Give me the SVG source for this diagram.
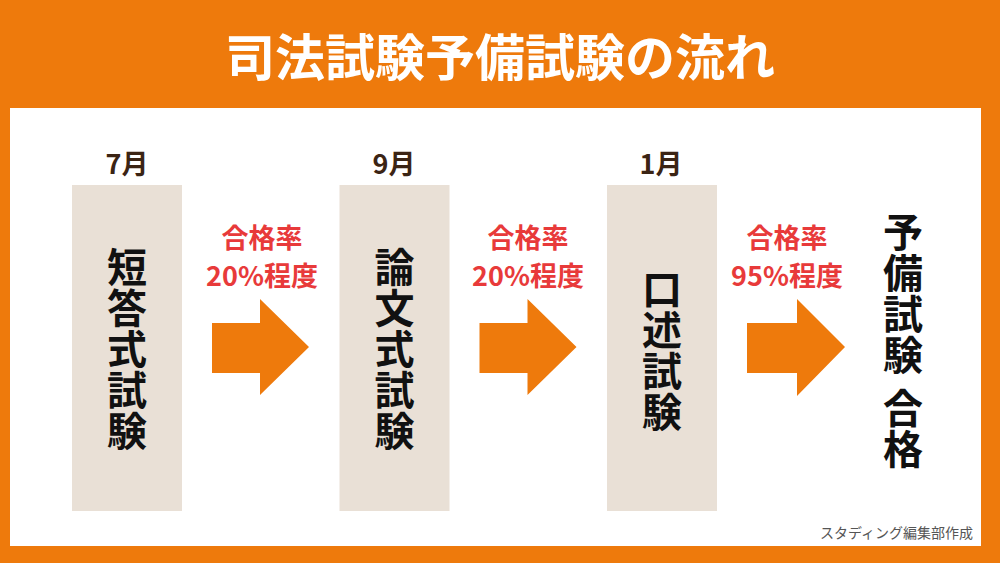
<svg xmlns="http://www.w3.org/2000/svg" width="1000" height="563" viewBox="0 0 1000 563">
<style>
text{font-family:"Noto Sans CJK JP","Noto Sans",sans-serif;text-anchor:middle}
.title{font-size:50px;font-weight:700;fill:#ffffff}
.month{font-size:27px;font-weight:700;fill:#3b2414}
.box{fill:#e9e0d6}
.vt{font-size:40px;font-weight:700;fill:#111111}
.rate{font-size:27px;font-weight:700;fill:#e83a3a}
.arrow{fill:#ee7a0c}
.credit{font-size:14px;fill:#555555;text-anchor:end}
</style>
<rect x="0" y="0" width="1000" height="563" fill="#ee7a0c"/>
<rect x="10" y="108" width="971" height="438" fill="#ffffff"/>
<text class="title" x="500" y="76">司法試験予備試験の流れ</text>
<g id="node-tanto">
<text class="month" x="127" y="174">7月</text>
<rect class="box" x="72" y="185" width="110" height="326"/>
<text class="vt" x="127" y="282">短</text>
<text class="vt" x="127" y="323">答</text>
<text class="vt" x="127" y="364">式</text>
<text class="vt" x="127" y="405">試</text>
<text class="vt" x="127" y="446">験</text>
</g>
<g id="node-ronbun">
<text class="month" x="394" y="174">9月</text>
<rect class="box" x="339.5" y="185" width="110" height="326"/>
<text class="vt" x="394.5" y="282">論</text>
<text class="vt" x="394.5" y="323">文</text>
<text class="vt" x="394.5" y="364">式</text>
<text class="vt" x="394.5" y="405">試</text>
<text class="vt" x="394.5" y="446">験</text>
</g>
<g id="node-kojutsu">
<text class="month" x="661" y="174">1月</text>
<rect class="box" x="607" y="185" width="110" height="326"/>
<text class="vt" x="662" y="304">口</text>
<text class="vt" x="662" y="345">述</text>
<text class="vt" x="662" y="386">試</text>
<text class="vt" x="662" y="427">験</text>
</g>
<g id="node-pass">
<text class="vt" x="903" y="247">予</text>
<text class="vt" x="903" y="288">備</text>
<text class="vt" x="903" y="329">試</text>
<text class="vt" x="903" y="370">験</text>
<text class="vt" x="903" y="423">合</text>
<text class="vt" x="903" y="464">格</text>
</g>
<g id="connectors">
<path class="arrow" d="M212,323 H260 V299 L309,347 L260,395 V373 H212 Z"/>
<text class="rate" x="262" y="248">合格率</text>
<text class="rate" x="262" y="286">20%程度</text>
<path class="arrow" d="M479.5,323 H527.5 V299 L576.5,347 L527.5,395 V373 H479.5 Z"/>
<text class="rate" x="528" y="248">合格率</text>
<text class="rate" x="528" y="286">20%程度</text>
<path class="arrow" d="M747,323 H797 V299 L845,347 L797,396 V373 H747 Z"/>
<text class="rate" x="787" y="248">合格率</text>
<text class="rate" x="787" y="286">95%程度</text>
</g>
<text class="credit" x="973" y="538">スタディング編集部作成</text>
</svg>
